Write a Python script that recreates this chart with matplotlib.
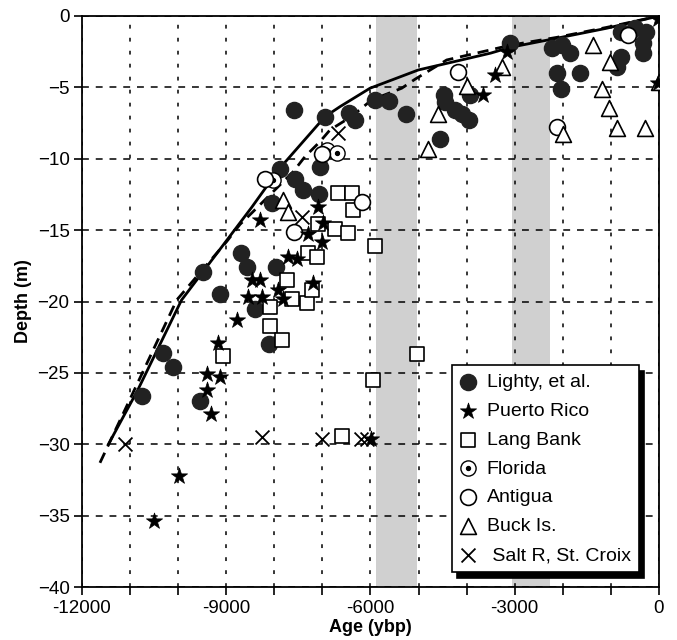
import matplotlib
matplotlib.use("Agg")
import matplotlib.pyplot as plt
from matplotlib.legend_handler import HandlerTuple

plt.rcParams['font.family'] = ['Liberation Sans', 'DejaVu Sans']

# ---------------- data (age in years BP as negative, depth in m) ----------------
lighty_age = [-10760, -10310, -10110, -9550, -9480, -9130, -8700, -8570, -8400, -8120,
              -8050, -7970, -7890, -7560, -7400, -7070, -7050, -7600, -6950, -6450,
              -6330, -5900, -5610, -5260, -4480, -4450, -4240, -4100, -3960, -3930,
              -4550, -3100, -2230, -2020, -1850, -2130, -1640, -2040, -780, -500,
              -260, -330, -330, -780, -880]
lighty_depth = [-26.6, -23.6, -24.6, -27.0, -17.9, -19.5, -16.6, -17.6, -20.5, -23.0,
                -13.1, -17.6, -10.7, -11.4, -12.2, -12.5, -10.6, -6.6, -7.05, -6.8,
                -7.3, -5.9, -5.95, -6.9, -5.5, -6.0, -6.6, -6.9, -7.3, -5.5,
                -8.6, -1.9, -2.25, -2.05, -2.6, -4.0, -4.0, -5.1, -1.1, -0.85,
                -1.1, -1.9, -2.6, -2.85, -3.55]

pr_age = [-10500, -9980, -9320, -9410, -9410, -9140, -9170, -8770, -8540, -8260,
          -8470, -8300, -7920, -7810, -7190, -7710, -7520, -7290, -7015, -8300,
          -7085, -6980, -5980, -3650, -3410, -3170, -20, -20]
pr_depth = [-35.4, -32.2, -27.9, -26.2, -25.1, -25.3, -22.9, -21.3, -19.7, -19.7,
            -18.5, -18.5, -19.2, -19.8, -18.7, -16.85, -17.0, -15.3, -15.8, -14.3,
            -13.35, -14.5, -29.6, -5.5, -4.1, -2.5, -0.2, -4.7]

lang_age = [-9070, -8100, -8090, -7840, -7740, -7640, -7330, -7220, -7290, -7120,
            -7085, -6740, -6460, -6670, -6390, -6360, -5910, -5030, -5940, -6600]
lang_depth = [-23.8, -20.4, -21.7, -22.7, -18.5, -19.8, -20.1, -19.2, -16.6, -16.85,
              -14.6, -14.9, -15.2, -12.4, -12.4, -13.6, -16.1, -23.7, -25.5, -29.4]

florida_age = [-8020, -6910, -6700]
florida_depth = [-11.5, -9.4, -9.6]

antigua_age = [-8190, -7015, -7600, -6180, -4170, -2130, -640]
antigua_depth = [-11.4, -9.7, -15.1, -13.0, -3.9, -7.75, -1.33]

buck_age = [-7810, -7710, -4590, -4800, -4000, -3270, -1370, -1190, -1050, -1990,
            -880, -290, -10, -1020]
buck_depth = [-12.9, -13.7, -6.9, -9.3, -4.9, -3.55, -2.0, -5.1, -6.45, -8.3,
              -7.85, -7.85, -4.6, -3.2]

salt_age = [-11100, -8260, -7015, -6200, -6080, -7430, -6670]
salt_depth = [-30.0, -29.5, -29.6, -29.6, -29.6, -14.05, -8.2]

solid_age = [-11450, -10840, -9930, -9480, -8470, -7896, -6946, -6634, -6010,
             -5005, -4070, -3500, -3100, -2130, -1090, 0]
solid_depth = [-30.0, -26.2, -19.9, -17.9, -13.4, -10.7, -7.05, -6.35, -5.06,
               -3.78, -3.05, -2.6, -2.2, -1.56, -0.86, 0.0]

dashed_age = [-11626, -10030, -9627, -8991, -8714, -8470, -7605, -7362, -7050, -6842,
              -6400, -5975, -5351, -5074, -4415, -3514, -3100, -2130, -1090, 0]
dashed_depth = [-31.3, -19.9, -18.3, -15.8, -14.6, -13.8, -10.9, -9.85, -8.8, -7.98,
                -7.05, -5.88, -5.06, -4.43, -3.08, -2.38, -2.05, -1.5, -0.8, 0.0]

bands = [(-5880, -5030), (-3060, -2260)]

x_ticks = list(range(-12000, 1, 1000))
x_labels = ['-12000', '', '', '-9000', '', '', '-6000', '', '', '-3000', '', '', '0']
y_ticks = list(range(-40, 1, 5))

# ---------------- figure ----------------
fig = plt.figure(figsize=(6.77, 6.40), dpi=100)
ax = fig.add_axes([0.1211, 0.0828, 0.8523, 0.8922])

for a, b in bands:
    ax.axvspan(a, b, color='#d0d0d0', lw=0, zorder=0)

ax.set_xlim(-12000, 0)
ax.set_ylim(-40, 0)
ax.set_xticks(x_ticks)
ax.set_xticklabels(x_labels)
ax.set_yticks(y_ticks)
ax.xaxis.grid(True, color='black', linestyle=(0, (2.5, 6)), linewidth=1.1)
ax.yaxis.grid(True, color='black', linestyle=(0, (4.5, 4.5)), linewidth=1.1)
ax.set_axisbelow(True)
ax.tick_params(direction='out', length=6, width=1.2, labelsize=13.5, pad=3)
for s in ax.spines.values():
    s.set_linewidth(1.3)

ax.plot(solid_age, solid_depth, color='black', lw=2.0, zorder=3)
ax.plot(dashed_age, dashed_depth, color='black', lw=2.0, linestyle=(0, (4, 2.5)), zorder=3)

h_lighty = ax.scatter(lighty_age, lighty_depth, s=135, marker='o', facecolor='#222222',
                      edgecolor='#222222', zorder=4)
h_pr = ax.scatter(pr_age, pr_depth, s=150, marker='*', facecolor='black',
                  edgecolor='black', linewidths=0.5, zorder=5)
h_lang = ax.scatter(lang_age, lang_depth, s=110, marker='s', facecolor='white',
                    edgecolor='black', linewidths=1.2, zorder=4)
h_fl1 = ax.scatter(florida_age, florida_depth, s=120, marker='o', facecolor='white',
                   edgecolor='black', linewidths=1.0, zorder=4)
h_fl2 = ax.scatter(florida_age, florida_depth, s=8, marker='o', facecolor='black',
                   edgecolor='black', zorder=4)
h_ant = ax.scatter(antigua_age, antigua_depth, s=130, marker='o', facecolor='white',
                   edgecolor='black', linewidths=1.2, zorder=4)
h_buck = ax.scatter(buck_age, buck_depth, s=130, marker='^', facecolor='white',
                    edgecolor='black', linewidths=1.2, zorder=4)
h_salt = ax.scatter(salt_age, salt_depth, s=100, marker='x', color='black',
                    linewidths=1.3, zorder=4)

ax.set_xlabel('Age (ybp)', fontsize=13, fontweight='bold', labelpad=2)
ax.set_ylabel('Depth (m)', fontsize=13, fontweight='bold', labelpad=4)

leg = ax.legend([h_lighty, h_pr, h_lang, (h_fl1, h_fl2), h_ant, h_buck, h_salt],
                ['Lighty, et al.', 'Puerto Rico', 'Lang Bank', 'Florida', 'Antigua',
                 'Buck Is.', ' Salt R, St. Croix'],
                handler_map={tuple: HandlerTuple(ndivide=1)},
                loc='upper left', bbox_to_anchor=(0.641, 0.388),
                fontsize=14, frameon=True, fancybox=False, edgecolor='black',
                framealpha=1, shadow={'color': 'black', 'alpha': 1, 'ox': 4, 'oy': -4},
                handlelength=0.9, handletextpad=0.5, labelspacing=0.58,
                borderpad=0.4, borderaxespad=0)
leg.get_frame().set_linewidth(1.2)
leg.set_zorder(10)

fig.savefig('out.png', dpi=100)
